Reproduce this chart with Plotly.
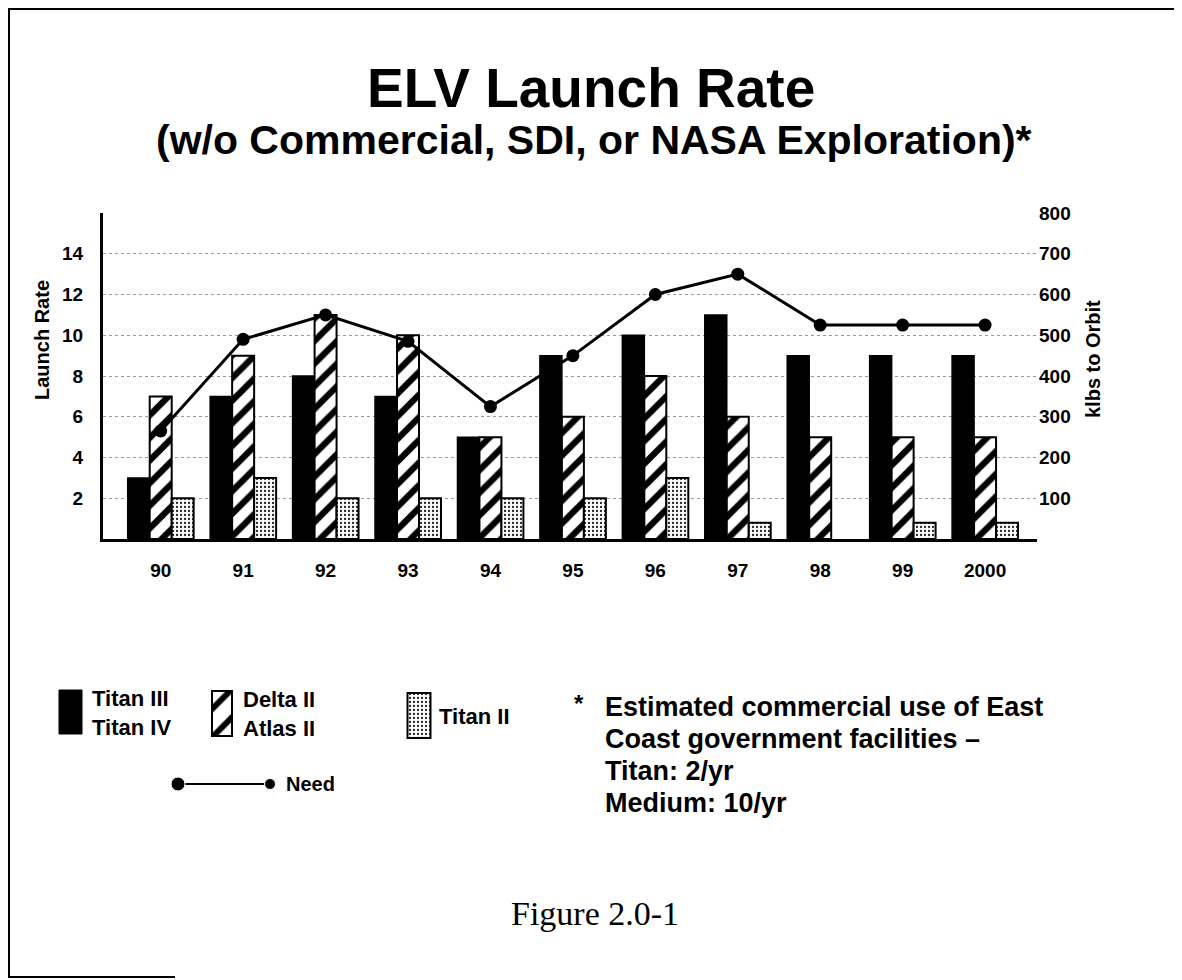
import plotly.graph_objects as go

# ---------------- data ----------------
years = ["90", "91", "92", "93", "94", "95", "96", "97", "98", "99", "2000"]
titan_iii_iv = [3, 7, 8, 7, 5, 9, 10, 11, 9, 9, 9]
delta_atlas = [7, 9, 11, 10, 5, 6, 8, 6, 5, 5, 5]
titan_ii = [2, 3, 2, 2, 2, 2, 3, 0.8, None, 0.8, 0.8]
need_klbs = [265, 490, 550, 485, 325, 450, 600, 650, 525, 525, 525]
left_ticks = [2, 4, 6, 8, 10, 12, 14]
right_ticks = [100, 200, 300, 400, 500, 600, 700, 800]

# ---------------- layout constants (screen pixels) ----------------
SW, SH = 1182, 980          # browser window
OX, OY = 8, 8               # default page body margin
W, H = SW - OX, SH - OY     # figure size
PL, PR, PT, PB = 103, 1037, 213, 539
FONT = "Liberation Sans"


def fx(x):
    return (x - OX) / W


def fy(y):
    return 1 - (y - OY) / H


HATCH = dict(shape="/", fgcolor="#000000", bgcolor="#ffffff", fgopacity=1,
             fillmode="replace", size=16, solidity=0.4)
STIPPLE = dict(shape=".", fgcolor="#222222", bgcolor="#ffffff", fgopacity=1,
               fillmode="replace", size=4, solidity=0.25)

fig = go.Figure()

fig.add_trace(go.Bar(
    x=years, y=titan_iii_iv, name="Titan III / Titan IV",
    marker=dict(color="black", opacity=1, line=dict(color="black", width=1.5)),
))
fig.add_trace(go.Bar(
    x=years, y=delta_atlas, name="Delta II / Atlas II",
    marker=dict(color="black", opacity=1, line=dict(color="black", width=2),
                pattern=HATCH),
))
fig.add_trace(go.Bar(
    x=years, y=titan_ii, name="Titan II",
    marker=dict(color="black", opacity=1, line=dict(color="black", width=2),
                pattern=STIPPLE),
))
fig.add_trace(go.Scatter(
    x=years, y=need_klbs, name="Need", yaxis="y2", mode="lines+markers",
    line=dict(color="black", width=3),
    marker=dict(color="black", size=13, opacity=1),
))

# ----- legend swatches on a screen-pixel helper axis -----
fig.add_trace(go.Bar(
    x=[70.5], y=[44], base=[690], width=[23], xaxis="x3", yaxis="y3",
    marker=dict(color="black", opacity=1, line=dict(color="black", width=1)),
))
fig.add_trace(go.Bar(
    x=[222], y=[45], base=[691], width=[20], xaxis="x3", yaxis="y3",
    marker=dict(color="black", opacity=1, line=dict(color="black", width=2),
                pattern=dict(HATCH, size=20, solidity=0.3)),
))
fig.add_trace(go.Bar(
    x=[419], y=[45], base=[693], width=[23], xaxis="x3", yaxis="y3",
    marker=dict(color="black", opacity=1, line=dict(color="black", width=2),
                pattern=STIPPLE),
))
fig.add_trace(go.Scatter(
    x=[178, 270], y=[784, 784], xaxis="x3", yaxis="y3", mode="lines+markers",
    line=dict(color="black", width=2),
    marker=dict(color="black", size=[14, 11], opacity=1),
))

annotations = []


def ann(text, x, y, size, xanchor="left", angle=0, family=FONT, weight="bold"):
    annotations.append(dict(
        text=text, x=fx(x), y=fy(y), xref="paper", yref="paper",
        xanchor=xanchor, yanchor="middle", showarrow=False, textangle=angle,
        font=dict(family=family, size=size, color="black", weight=weight),
    ))


ann("ELV Launch Rate", 591, 88, 55, xanchor="center")
ann("(w/o Commercial, SDI, or NASA Exploration)*", 594, 140, 41, xanchor="center")
ann("Launch Rate", 42, 340, 20, xanchor="center", angle=-90)
ann("klbs to Orbit", 1093, 359, 20, xanchor="center", angle=-90)

ann("Titan III", 90, 698, 22)
ann("Titan IV", 90, 727, 22)
ann("Delta II", 241, 699, 22)
ann("Atlas II", 241, 728, 22)
ann("Titan II", 437, 716, 22)
ann("Need", 284, 784, 20)
ann("*", 572, 703, 24)
ann("Estimated commercial use of East", 603, 707, 27)
ann("Coast government facilities \u2013", 603, 739, 27)
ann("Titan: 2/yr", 603, 771, 27)
ann("Medium: 10/yr", 603, 803, 27)
ann("Figure 2.0-1", 595, 913, 34, xanchor="center", family="Liberation Serif", weight="normal")

frame = dict(color="black", width=2)
shapes = [
    dict(type="line", xref="paper", yref="paper", x0=fx(8), x1=fx(1178), y0=fy(9), y1=fy(9), line=frame),
    dict(type="line", xref="paper", yref="paper", x0=fx(9), x1=fx(9), y0=fy(8), y1=fy(978), line=frame),
    dict(type="line", xref="paper", yref="paper", x0=fx(1177), x1=fx(1177), y0=fy(8), y1=fy(978), line=frame),
    dict(type="line", xref="paper", yref="paper", x0=fx(8), x1=fx(175), y0=fy(977), y1=fy(977), line=frame),
]

tickfont = dict(family=FONT, size=19, color="black", weight="bold")

fig.update_layout(
    width=W, height=H,
    margin=dict(l=0, r=0, t=0, b=0),
    paper_bgcolor="white", plot_bgcolor="rgba(0,0,0,0)",
    showlegend=False,
    barmode="group", bargap=0.2, bargroupgap=0,
    annotations=annotations, shapes=shapes,
    xaxis=dict(
        type="category", domain=[fx(PL), fx(PR)], range=[-0.70, 10.63],
        showline=True, linecolor="black", linewidth=3, ticks="",
        showgrid=False, zeroline=False, tickfont=tickfont,
        ticklabelstandoff=12, automargin=False, anchor="y",
    ),
    yaxis=dict(
        domain=[fy(PB), fy(PT)], range=[0, 16], tickvals=left_ticks,
        showline=True, linecolor="black", linewidth=3, ticks="",
        showgrid=False, zeroline=False, tickfont=tickfont,
        ticklabelstandoff=13, automargin=False, anchor="x",
    ),
    yaxis2=dict(
        overlaying="y", side="right", range=[0, 800], tickvals=right_ticks,
        showline=False, ticks="", showgrid=True, gridcolor="#999",
        griddash="dot", gridwidth=1, zeroline=False, tickfont=tickfont,
        ticklabelstandoff=1, automargin=False, anchor="x",
    ),
    xaxis3=dict(domain=[0, 1], range=[OX, SW], visible=False, anchor="y3",
                fixedrange=True),
    yaxis3=dict(domain=[0, 1], range=[SH, OY], visible=False, anchor="x3",
                fixedrange=True),
)

fig.write_html("out.html")
